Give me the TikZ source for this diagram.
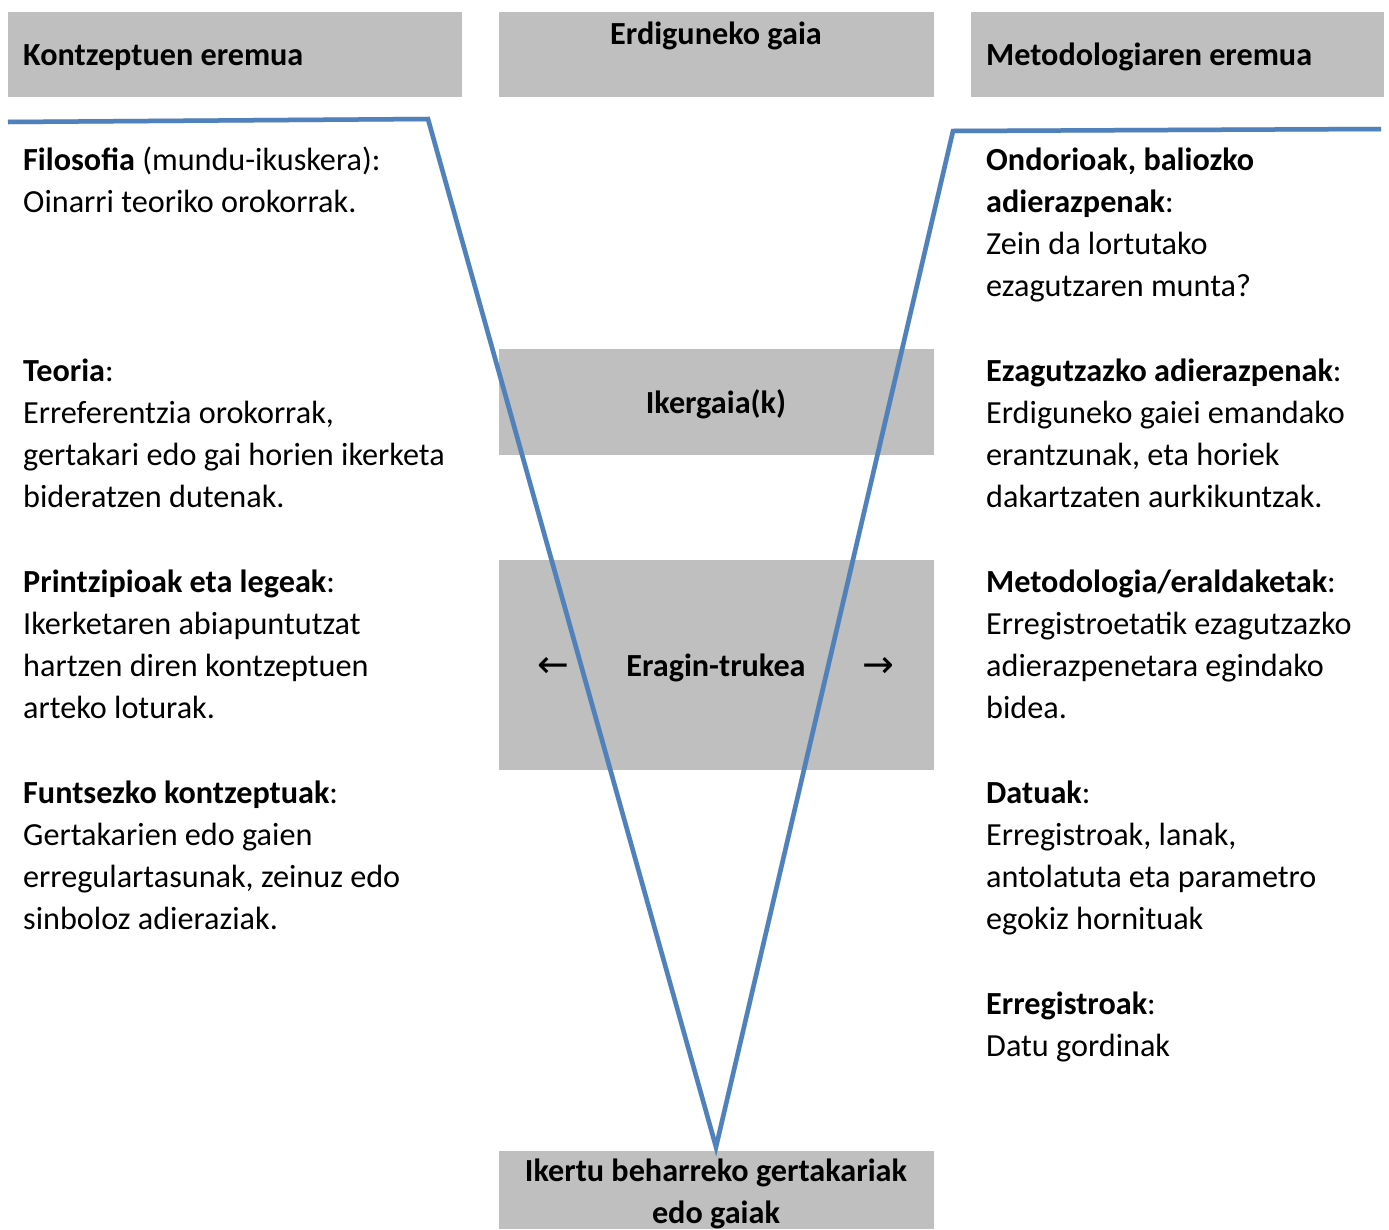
\documentclass[tikz,border=0pt]{standalone}
\usepackage{fontspec}
\setmainfont{Carlito}
\newfontfamily\arrowfont{DejaVu Sans}
\definecolor{boxgray}{HTML}{BFBFBF}
\definecolor{vblue}{HTML}{4F81BD}
\begin{document}
\begin{tikzpicture}[x=1pt,y=-1pt,
  para/.style={anchor=base west,inner sep=0pt,align=left,font=\fontsize{32.2}{42.2}\selectfont},
  ctext/.style={anchor=base,inner sep=0pt,align=center,font=\fontsize{32.2}{41.5}\selectfont\bfseries},
  arr/.style={anchor=base,inner sep=0pt,font=\fontsize{38}{40}\arrowfont},
  vline/.style={draw=vblue,line width=4.5pt,line join=miter},
  vshadow/.style={draw=black,opacity=0.12,line width=5pt}]
\useasboundingbox (0,0) rectangle (1389,1229);
% boxes
\fill[boxgray] (8,12) rectangle (462,97) coordinate (bx1);
\fill[boxgray] (499,12) rectangle (934,97) coordinate (bx2);
\fill[boxgray] (971,12) rectangle (1384,97) coordinate (bx3);
\fill[boxgray] (499,349) rectangle (934,455) coordinate (bx4);
\fill[boxgray] (499,560) rectangle (934,770) coordinate (bx5);
\fill[boxgray] (499,1151) rectangle (934,1229) coordinate (bx6);
% V lines
\coordinate (lA) at (8,122);
\coordinate (lB) at (428,119);
\coordinate (vT) at (716,1147);
\coordinate (rB) at (953,131);
\coordinate (rA) at (1381,129);
\draw[vshadow,shift={(2,3)}] (lA) -- (lB) -- (vT) -- (rB) -- (rA);
\draw[vline] (lA) -- (lB) -- (vT) -- (rB) -- (rA);
% headers
\node[para,font=\fontsize{32.2}{42.2}\selectfont\bfseries] (h1) at (23,65) {Kontzeptuen eremua};
\node[ctext] (h2) at (716,44) {Erdiguneko gaia};
\node[para,font=\fontsize{32.2}{42.2}\selectfont\bfseries] (h3) at (986,65) {Metodologiaren eremua};
\node[ctext] (ik) at (716,413) {Ikergaia(k)};
\node[ctext] (er) at (716,676) {Eragin-trukea};
\node[arr] (arL) at (553,677) {←};
\node[arr] (arR) at (878,677) {→};
\node[ctext] (bt) at (716,1223) {Ikertu beharreko gertakariak\\edo gaiak};
% left column (anchored at last line baseline)
\node[para] (p1) at (23,212.5) {\textbf{Filosofia} (mundu-ikuskera):\\Oinarri teoriko orokorrak.};
\node[para] (p2) at (23,507.8) {\textbf{Teoria}:\\Erreferentzia orokorrak,\\gertakari edo gai horien ikerketa\\bideratzen dutenak.};
\node[para] (p3) at (23,718.8) {\textbf{Printzipioak eta legeak}:\\Ikerketaren abiapuntutzat\\hartzen diren kontzeptuen\\arteko loturak.};
\node[para] (p4) at (23,929.8) {\textbf{Funtsezko kontzeptuak}:\\Gertakarien edo gaien\\erregulartasunak, zeinuz edo\\sinboloz adieraziak.};
% right column
\node[para] (q1) at (986,296.8) {\textbf{Ondorioak, baliozko}\\\textbf{adierazpenak}:\\Zein da lortutako\\ezagutzaren munta?};
\node[para] (q2) at (986,507.8) {\textbf{Ezagutzazko adierazpenak}:\\Erdiguneko gaiei emandako\\erantzunak, eta horiek\\dakartzaten aurkikuntzak.};
\node[para] (q3) at (986,718.8) {\textbf{Metodologia/eraldaketak}:\\Erregistroetatik ezagutzazko\\adierazpenetara egindako\\bidea.};
\node[para] (q4) at (986,929.8) {\textbf{Datuak}:\\Erregistroak, lanak,\\antolatuta eta parametro\\egokiz hornituak};
\node[para] (q5) at (986,1056.4) {\textbf{Erregistroak}:\\Datu gordinak};
\end{tikzpicture}
\end{document}
